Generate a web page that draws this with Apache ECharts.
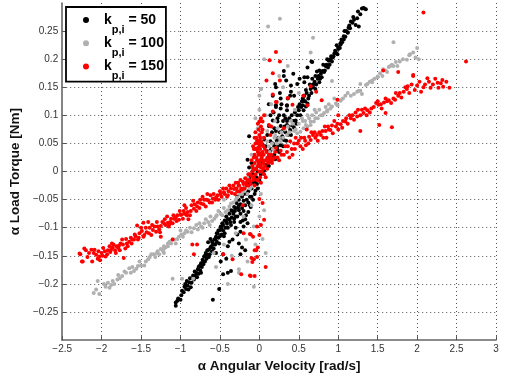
<!DOCTYPE html>
<html>
<head>
<meta charset="utf-8">
<script src="https://cdn.jsdelivr.net/npm/echarts@6/dist/echarts.min.js"></script>
<style>html,body{margin:0;padding:0;background:#fff}#c{width:510px;height:378px}</style>
</head>
<body>
<div id="c"></div>
<script>
// ---- data: [angular velocity, load torque] ----
var seriesNames = ['k50', 'k100', 'k150'];
var legendLabels = ['50', '100', '150'];
var xTickMin = -2.5, xTickMax = 3, xTickStep = 0.5;
var yTickMin = -0.3, yTickMax = 0.3, yTickStep = 0.05;

var black50 = [
[-1.06,-0.239],[-1.06,-0.233],[-1.03,-0.226],[-0.99,-0.22],[-0.96,-0.215],[-0.93,-0.209],[-0.91,-0.203],[-0.87,-0.206],[-0.89,-0.197],[-0.83,-0.192],[-0.84,-0.185],[-0.80,-0.18],[-0.78,-0.174],[-0.76,-0.168],[-0.74,-0.163],[-0.72,-0.157],[-0.70,-0.151],[-0.68,-0.145],[-0.64,-0.139],[-0.61,-0.133],[-0.59,-0.128],[-0.57,-0.121],[-0.55,-0.116],[-0.53,-0.11],[-0.50,-0.104],[-0.49,-0.098],[-0.47,-0.092],[-0.44,-0.087],[-0.42,-0.08],[-0.38,-0.075],[-0.36,-0.069],[-0.32,-0.063],[-0.29,-0.056],
[-1.0,-0.228],[-0.95,-0.205],[-0.92,-0.195],[-0.88,-0.19],[-0.86,-0.198],[-0.82,-0.178],[-0.79,-0.188],[-0.77,-0.182],[-0.75,-0.176],[-0.73,-0.17],[-0.71,-0.165],[-0.69,-0.16],[-0.67,-0.155],[-0.66,-0.148],[-0.65,-0.126],[-0.63,-0.147],[-0.62,-0.12],[-0.6,-0.142],[-0.58,-0.137],[-0.56,-0.13],[-0.54,-0.125],[-0.52,-0.118],[-0.51,-0.128],[-0.48,-0.112],[-0.46,-0.105],[-0.45,-0.115],[-0.43,-0.1],[-0.41,-0.093],[-0.4,-0.085],[-0.37,-0.09],[-0.35,-0.082],[-0.33,-0.075],[-0.31,-0.07],[-0.3,-0.08],[-0.27,-0.065],[-0.26,-0.05],[-0.24,-0.058],[-0.22,-0.045],[-0.2,-0.052],
[-1.04,-0.23],[-0.98,-0.212],[-0.94,-0.2],[-0.9,-0.21],[-0.85,-0.19],[-0.81,-0.185],[-0.77,-0.17],[-0.74,-0.18],[-0.71,-0.16],[-0.69,-0.15],[-0.66,-0.14],[-0.64,-0.152],[-0.62,-0.135],[-0.6,-0.125],[-0.58,-0.13],[-0.56,-0.12],[-0.54,-0.11],[-0.52,-0.105],[-0.5,-0.115],[-0.48,-0.1],[-0.46,-0.095],[-0.44,-0.11],[-0.42,-0.09],[-0.4,-0.1],[-0.38,-0.085],[-0.36,-0.095],[-0.34,-0.07],[-0.32,-0.09],[-0.3,-0.065],[-0.28,-0.08],[-0.26,-0.06],[-0.24,-0.09],[-0.22,-0.065],[-0.2,-0.04],[-0.18,-0.085],[-0.16,-0.05],[-0.14,-0.035],[-0.12,-0.06],[-0.1,-0.045],[-0.08,-0.02],[-0.06,-0.04],[-0.04,-0.01],[-0.02,-0.03],[0.0,-0.015],
[-0.59,-0.228],[-0.51,-0.209],[-0.40,-0.18],[-0.46,-0.183],[-0.36,-0.177],[-0.49,-0.16],[-0.46,-0.147],[-0.40,-0.133],[-0.38,-0.125],[-0.34,-0.121],[-0.28,-0.112],[-0.24,-0.107],[-0.20,-0.098],[-0.21,-0.087],[-0.15,-0.092],[-0.26,-0.069],[-0.32,-0.084],[-0.24,-0.075],[-0.17,-0.078],[-0.14,-0.072],[-0.11,-0.063],[-0.05,-0.034],[-0.03,-0.022],[-0.24,-0.147],[-0.55,-0.145],[-0.42,-0.155],[-0.30,-0.1],[-0.18,-0.06],[-0.12,-0.045],[-0.08,-0.05],[-0.1,-0.03],[-0.06,-0.015],[-0.16,-0.04],[-0.2,-0.07],[-0.14,-0.055],[-0.22,-0.135],[-0.18,-0.14],[-0.26,-0.128],
[0.02,-0.005],[0.06,0.002],[0.10,0.01],[0.14,0.019],[0.19,0.03],[0.23,0.039],[0.27,0.047],[0.31,0.056],[0.36,0.065],[0.39,0.074],[0.42,0.082],[0.46,0.091],[0.48,0.10],[0.50,0.109],[0.55,0.118],[0.56,0.126],[0.63,0.135],[0.65,0.147],[0.69,0.156],[0.74,0.165],[0.78,0.174],[0.80,0.179],[0.84,0.188],[0.88,0.197],[0.93,0.203],[0.97,0.212],[1.0,0.218],[1.03,0.226],[1.07,0.235],[1.12,0.247],[1.13,0.256],[1.16,0.267],[1.22,0.261],[1.26,0.258],[1.24,0.273],[1.32,0.291],[1.35,0.289],[1.30,0.29],
[1.12,0.248],[1.07,0.241],[1.03,0.229],[1.0,0.221],[0.99,0.209],[0.94,0.205],[0.92,0.196],[0.86,0.188],[0.82,0.177],[0.76,0.159],[0.71,0.147],[0.61,0.121],[0.59,0.116],[0.56,0.109],[0.55,0.13],[0.67,0.195],[0.57,0.159],[0.61,0.168],
[0.04,0.0],[0.08,0.012],[0.12,0.01],[0.16,0.028],[0.2,0.022],[0.21,0.045],[0.25,0.035],[0.28,0.06],[0.3,0.045],[0.33,0.07],[0.34,0.055],[0.37,0.08],[0.4,0.065],[0.43,0.09],[0.44,0.078],[0.47,0.085],[0.52,0.1],[0.53,0.115],[0.58,0.125],[0.6,0.14],[0.62,0.13],[0.66,0.14],[0.68,0.15],[0.7,0.16],[0.72,0.155],[0.75,0.17],[0.77,0.165],[0.79,0.168],[0.83,0.18],[0.85,0.19],[0.87,0.185],[0.9,0.2],[0.95,0.21],[1.02,0.22],[1.05,0.23],[1.09,0.24],[1.1,0.25],[1.15,0.255],[1.18,0.265],[1.2,0.27],[1.28,0.28],
[0.06,0.01],[0.09,0.02],[0.11,0.025],[0.13,0.03],[0.15,0.04],[0.17,0.05],[0.19,0.045],[0.22,0.055],[0.24,0.06],[0.26,0.07],[0.29,0.072],[0.32,0.08],[0.35,0.09],[0.38,0.095],[0.41,0.1],[0.45,0.105],[0.49,0.115],[0.51,0.12],[0.54,0.125],[0.57,0.135],[0.59,0.145],[0.64,0.155],[0.67,0.165],[0.71,0.17],[0.73,0.178],[0.76,0.18],[0.81,0.19],[0.86,0.2],[0.89,0.19],[0.91,0.205],[0.96,0.215],[0.98,0.225],[1.04,0.235],[1.08,0.25],[1.14,0.26],[1.19,0.275],[1.25,0.285],[1.33,0.29],
[-0.25,-0.04],[-0.2,-0.03],[-0.15,-0.02],[-0.12,-0.01],[-0.08,-0.005],[-0.05,0.005],[-0.02,0.0],[0.0,0.01],[-0.1,0.015],[-0.15,0.021],[-0.13,0.063],[-0.13,0.007],[0.02,0.02],[-0.04,-0.02],[-0.28,-0.045],
[0.2,0.156],[0.17,0.135],[0.21,0.118],[0.28,0.12],[0.35,0.109],[0.14,0.1],[0.23,0.095],[0.12,0.081],[0.19,0.077],[0.27,0.081],[0.06,0.057],[0.14,0.054],[0.1,0.036],[0.04,0.048],[0.31,0.17],[0.31,0.179],[0.66,0.196],[0.61,0.185],[0.51,0.165],[0.48,0.156],[0.57,0.168],[0.4,0.153],[0.44,0.135],[0.36,0.13],[0.43,0.174],[0.34,0.162],[0.21,0.15],[0.4,0.142],[0.27,0.13],[0.21,0.115],[0.35,0.117],[0.56,0.135],[0.67,0.154],[0.27,0.112],[0.35,0.118],[0.39,0.135],[0.31,0.1],[0.23,0.089],[0.17,0.091],[0.21,0.072],[0.35,0.083],[0.29,0.063],[0.23,0.045],[0.14,0.037],[0.04,0.016],[0.25,0.1],[0.3,0.09],[0.16,0.07],[0.1,0.065],[0.08,0.045],[0.12,0.12],[0.18,0.105],[0.33,0.095],[0.26,0.14]
];

var gray100 = [
[-2.1,-0.216],[-2.03,-0.218],[-2.05,-0.195],[-1.92,-0.198],[-1.9,-0.207],[-1.88,-0.202],[-1.84,-0.2],[-1.79,-0.184],[-1.74,-0.186],[-1.69,-0.18],[-1.65,-0.172],[-1.63,-0.18],[-1.59,-0.177],[-1.54,-0.168],[-1.5,-0.167],[-1.46,-0.167],[-1.41,-0.156],[-1.37,-0.147],[-1.34,-0.147],[-1.29,-0.142],[-1.27,-0.147],[-1.22,-0.142],[-1.21,-0.137],[-1.16,-0.133],[-1.12,-0.128],[-1.1,-0.121],[-1.06,-0.128],[-1.02,-0.116],[-0.97,-0.116],[-0.95,-0.11],[-0.91,-0.107],[-0.83,-0.101],[-0.74,-0.098],[-0.65,-0.09],[-0.57,-0.084],[-0.49,-0.075],[-0.4,-0.069],[-0.36,-0.057],[-0.28,-0.046],[-0.15,-0.04],[-0.99,-0.112],[-1.08,-0.121],[-1.16,-0.128],[-1.21,-0.133],
[-0.88,-0.1],[-0.86,-0.108],[-0.8,-0.095],[-0.78,-0.103],[-0.7,-0.092],[-0.68,-0.085],[-0.62,-0.08],[-0.6,-0.088],[-0.54,-0.078],[-0.52,-0.07],[-0.45,-0.065],[-0.43,-0.072],[-0.33,-0.055],[-0.3,-0.05],[-0.25,-0.04],[-0.2,-0.035],[-0.12,-0.03],[-1.8,-0.192],[-1.95,-0.205],[-1.44,-0.16],[-1.32,-0.152],[-1.25,-0.138],[-1.14,-0.125],[-1.04,-0.12],[-1.0,-0.105],
[-2.07,-0.21],[-1.97,-0.2],[-1.86,-0.195],[-1.77,-0.19],[-1.71,-0.178],[-1.61,-0.17],[-1.56,-0.173],[-1.52,-0.16],[-1.39,-0.152],[-1.3,-0.145],[-1.19,-0.135],[-0.93,-0.105],[-0.76,-0.092],[-0.72,-0.1],[-0.63,-0.095],[-0.55,-0.08],[-0.47,-0.078],[-0.38,-0.062],[-0.22,-0.04],[-0.18,-0.03],[-0.08,-0.01],
[-1.1,-0.191],[-1.21,-0.145],[-0.26,-0.174],[-0.84,-0.191],[-0.98,-0.191],[-0.58,-0.145],[-0.26,-0.18],[-0.17,-0.121],[-0.07,-0.098],[0.08,-0.145],[0.06,-0.069],[0.04,-0.12],[-0.07,-0.205],[-0.35,-0.15],[-0.45,-0.13],[-0.2,-0.08],[-0.1,-0.06],[0.02,-0.04],[-0.3,-0.11],[-0.15,-0.16],[-0.4,-0.2],[-0.55,-0.17],[0.0,-0.08],[-0.05,-0.13],
[-0.15,-0.011],[-0.11,-0.028],[0.0,0.021],[0.06,0.03],[0.04,0.06],[0.1,0.054],[0.19,0.06],[0.27,0.054],[0.23,0.077],[0.35,0.065],[0.44,0.072],[0.1,0.072],[-0.02,0.077],[-0.05,0.095],[0.0,0.135],[0.02,0.147],[-0.05,0.01],[0.02,0.0],[0.08,0.02],[0.13,0.035],[0.17,0.04],[0.22,0.05],[0.3,0.06],[0.38,0.07],[0.48,0.068],[0.52,0.071],[0.52,0.06],[0.56,0.077],[0.61,0.08],[0.65,0.083],[0.69,0.089],[0.74,0.095],[0.78,0.1],[0.82,0.104],[0.86,0.109],[0.92,0.116],[0.99,0.118],[1.03,0.126],[0.61,0.1],[0.59,0.083],[0.65,0.089],[0.71,0.095],[0.8,0.1],[0.86,0.107],[0.9,0.112],[0.97,0.121],[1.03,0.127],[1.09,0.135],[1.16,0.135],[1.24,0.142],[1.28,0.144],[1.35,0.154],[1.43,0.162],[1.5,0.169],[1.57,0.182],[1.64,0.186],[1.68,0.19],[1.75,0.188],[1.87,0.199],[1.9,0.207],[2.02,0.2],[2.0,0.22],[1.2,0.138],[1.26,0.144],[1.3,0.138],[1.37,0.156],[1.43,0.159],[1.5,0.168],[1.56,0.17],[1.62,0.177],[1.66,0.188],[1.7,0.188],[1.78,0.196],[1.91,0.209],[1.98,0.203],[1.28,0.156],[0.92,0.161],
[0.05,0.01],[0.12,0.045],[0.16,0.05],[0.2,0.065],[0.25,0.06],[0.28,0.07],[0.32,0.075],[0.36,0.08],[0.42,0.085],[0.46,0.075],[0.5,0.085],[0.54,0.095],[0.58,0.09],[0.63,0.095],[0.67,0.1],[0.72,0.105],[0.76,0.11],[0.84,0.115],[0.88,0.12],[0.95,0.13],[1.06,0.13],[1.12,0.14],[1.4,0.16],[1.46,0.165],[1.53,0.175],[1.6,0.18],[1.73,0.195],[1.82,0.2],[1.95,0.212],
[0.26,0.272],[0.11,0.258],[0.68,0.238],[1.7,0.23],[0.65,0.212],[0.06,0.2],[0.36,0.188],[0.02,0.147],[0.0,0.11],[0.15,0.12],[0.3,0.15],[0.45,0.11],[0.55,0.09],[0.7,0.11],[0.4,0.09],[0.2,0.09],[-0.03,0.05],[0.08,0.1],[0.5,0.14],[0.25,0.17],[-0.3,-0.03],[-0.45,-0.05],[-0.1,0.03]
];

var red150 = [
[-2.27,-0.147],[-2.25,-0.16],[-2.22,-0.137],[-2.2,-0.14],[-2.12,-0.16],[-2.13,-0.139],[-2.09,-0.139],[-2.04,-0.142],[-2.03,-0.151],[-2.02,-0.158],[-2.0,-0.145],[-1.98,-0.136],[-1.95,-0.151],[-1.92,-0.14],[-1.9,-0.133],[-1.88,-0.139],[-1.85,-0.13],[-1.82,-0.145],[-1.79,-0.136],[-1.78,-0.132],[-1.74,-0.121],[-1.72,-0.154],[-1.7,-0.137],[-1.67,-0.133],[-1.65,-0.125],[-1.61,-0.121],[-1.59,-0.121],[-1.55,-0.096],[-1.54,-0.121],[-1.47,-0.116],[-1.46,-0.113],[-1.47,-0.091],[-1.41,-0.09],[-1.37,-0.113],[-1.35,-0.104],[-1.31,-0.107],[-1.29,-0.098],[-1.25,-0.097],[-1.25,-0.116],[-1.21,-0.092],[-1.16,-0.091],[-1.15,-0.098],[-1.12,-0.084],[-1.1,-0.092],[-1.06,-0.082],[-1.02,-0.086],[-1.0,-0.077],[-0.97,-0.084],[-0.95,-0.075],
[-2.28,-0.146],[-2.24,-0.16],[-2.16,-0.145],[-2.07,-0.148],[-1.96,-0.142],[-1.87,-0.128],[-1.83,-0.14],[-1.76,-0.128],[-1.68,-0.128],[-1.63,-0.118],[-1.57,-0.115],[-1.52,-0.11],[-1.49,-0.106],[-1.43,-0.108],[-1.39,-0.1],[-1.33,-0.098],[-1.27,-0.103],[-1.23,-0.09],[-1.19,-0.095],[-1.13,-0.09],[-1.08,-0.084],[-1.04,-0.078],
[-2.18,-0.152],[-2.1,-0.145],[-2.05,-0.155],[-1.99,-0.15],[-1.93,-0.147],[-1.89,-0.143],[-1.86,-0.135],[-1.81,-0.133],[-1.77,-0.14],[-1.73,-0.13],[-1.69,-0.12],[-1.62,-0.128],[-1.58,-0.112],[-1.53,-0.118],[-1.5,-0.1],[-1.44,-0.1],[-1.4,-0.11],[-1.36,-0.095],[-1.3,-0.09],[-1.26,-0.108],[-1.2,-0.085],[-1.17,-0.08],[-1.14,-0.094],[-1.09,-0.078],[-1.05,-0.088],[-1.01,-0.07],
[-0.99,-0.077],[-0.91,-0.072],[-0.83,-0.066],[-0.74,-0.057],[-0.65,-0.051],[-0.55,-0.046],[-0.45,-0.037],[-0.32,-0.031],[-0.2,-0.022],[-0.07,-0.011],[0.02,0.007],[0.14,0.025],[-0.93,-0.065],[-0.88,-0.078],[-0.86,-0.06],[-0.8,-0.07],[-0.78,-0.055],[-0.76,-0.065],[-0.7,-0.05],[-0.68,-0.062],[-0.62,-0.042],[-0.6,-0.055],[-0.58,-0.04],[-0.52,-0.05],[-0.5,-0.035],[-0.48,-0.045],[-0.42,-0.03],[-0.4,-0.042],[-0.38,-0.025],[-0.35,-0.038],[-0.3,-0.02],[-0.28,-0.035],[-0.26,-0.025],[-0.24,-0.015],[-0.22,-0.032],[-0.18,-0.012],[-0.16,-0.025],[-0.14,-0.005],[-0.12,-0.018],[-0.1,-0.008],[-0.09,0.0],[-0.05,-0.005],[-0.72,-0.045],[-0.66,-0.04],[-0.95,-0.06],[-0.84,-0.052],[-0.9,-0.085],
[-0.12,-0.005],[-0.13,-0.015],[-0.14,-0.025],[-0.17,-0.02],[-0.19,-0.03],[-0.21,-0.018],[-0.23,-0.03],[-0.25,-0.035],[-0.27,-0.02],[-0.29,-0.03],[-0.31,-0.04],[-0.33,-0.025],[-0.36,-0.03],[-0.39,-0.035],[-0.41,-0.045],[-0.44,-0.04],[-0.46,-0.03],[-0.49,-0.04],[-0.53,-0.042],[-0.56,-0.05],[-0.59,-0.048],[-0.63,-0.055],[-0.67,-0.05],[-0.71,-0.058],[-0.75,-0.05],[-0.79,-0.062],[-0.82,-0.058],[-0.87,-0.07],[-0.92,-0.078],[-0.96,-0.07],
[-0.08,0.005],[-0.06,0.015],[-0.04,0.025],[-0.02,0.035],[0.0,0.045],[0.02,0.03],[0.04,0.02],[-0.05,0.004],[0.02,0.012],[0.06,-0.005],[0.1,0.024],[0.0,0.033],[-0.02,0.042],[0.02,0.054],[0.0,0.065],[0.0,0.089],[0.04,0.089],[0.06,0.1],[-0.03,0.055],[-0.05,0.04],[-0.07,0.025],[0.03,0.07],[-0.01,0.075],[0.05,0.045],[0.01,-0.01],[-0.03,-0.015],[0.03,0.0],[-0.06,0.03],[0.04,0.035],[-0.02,0.01],[0.0,0.0],[-0.04,0.06],[0.02,0.08],[-0.08,0.045],[0.06,0.06],[-0.1,0.02],[0.07,0.01],[-0.11,-0.022],[-0.15,-0.016],[-0.26,-0.025],[-0.02,-0.016],
[-0.09,0.01],[-0.07,0.04],[-0.05,0.05],[-0.05,0.07],[-0.03,0.04],[-0.03,0.02],[-0.01,0.05],[-0.01,0.03],[-0.01,0.015],[0.01,0.06],[0.01,0.04],[0.01,0.02],[0.03,0.05],[0.03,0.025],[0.05,0.03],[0.05,0.015],[0.07,0.04],[0.08,0.02],[0.09,0.035],[0.11,0.015],[0.12,0.03],[0.13,0.02],[0.15,0.03],[0.16,0.015],[0.19,0.025],[0.2,0.035],[0.02,0.095],[-0.02,0.085],[0.04,0.075],[-0.06,0.06],[0.0,0.055],[-0.04,0.005],[0.02,-0.02],[0.05,0.005],[0.08,-0.01],[0.1,0.005],[-0.08,-0.015],[-0.06,-0.025],
[0.17,0.021],[0.23,0.025],[0.31,0.03],[0.42,0.03],[0.21,0.042],[0.27,0.037],[0.33,0.045],[0.39,0.054],[0.46,0.06],[0.52,0.045],[0.59,0.047],[0.65,0.056],[0.71,0.06],[0.78,0.065],[0.84,0.072],[0.9,0.074],[0.97,0.08],[1.03,0.084],[1.09,0.089],[1.16,0.095],[1.24,0.098],[1.32,0.104],[1.37,0.109],[1.45,0.115],[1.51,0.119],[1.58,0.123],[1.64,0.127],[1.7,0.13],[1.76,0.135],[1.83,0.142],[1.87,0.147],[2.0,0.153],[2.08,0.15],[2.13,0.166],[2.17,0.149],[2.23,0.165],[2.27,0.149],[2.32,0.163],[2.33,0.151],[2.41,0.149],[1.95,0.17],
[0.25,0.02],[0.35,0.035],[0.38,0.025],[0.45,0.04],[0.5,0.055],[0.55,0.04],[0.57,0.06],[0.62,0.05],[0.68,0.065],[0.74,0.055],[0.76,0.07],[0.81,0.06],[0.87,0.08],[0.93,0.068],[0.95,0.09],[1.0,0.075],[1.06,0.09],[1.12,0.085],[1.14,0.1],[1.2,0.092],[1.28,0.1],[1.34,0.112],[1.4,0.105],[1.48,0.122],[1.55,0.112],[1.6,0.13],[1.67,0.122],[1.73,0.14],[1.8,0.132],[1.85,0.15],[1.9,0.14],[1.93,0.155],[1.97,0.145],[2.03,0.16],[2.05,0.142],[2.1,0.155],[2.2,0.155],[2.3,0.157],[0.6,0.075],[0.85,0.06],[1.0,0.1],[1.25,0.11],
[0.28,0.03],[0.36,0.045],[0.41,0.04],[0.44,0.05],[0.48,0.05],[0.53,0.06],[0.58,0.055],[0.63,0.062],[0.66,0.07],[0.7,0.07],[0.73,0.065],[0.8,0.072],[0.83,0.08],[0.88,0.075],[0.92,0.082],[0.99,0.085],[1.05,0.078],[1.1,0.095],[1.18,0.1],[1.22,0.105],[1.3,0.11],[1.36,0.1],[1.42,0.112],[1.5,0.125],[1.54,0.12],[1.62,0.125],[1.72,0.128],[1.78,0.14],[1.88,0.152],[2.15,0.16],[2.26,0.158],[2.37,0.16],
[2.08,0.283],[2.62,0.196],[0.21,0.213],[0.13,0.198],[0.26,0.196],[0.09,0.162],[0.17,0.175],[1.57,0.18],[1.76,0.177],[1.95,0.172],[1.68,0.079],[1.52,0.083],[1.28,0.072],[1.6,0.104],[0.17,0.107],[0.22,0.124],[0.12,0.083],[0.14,0.065],
[0.26,0.162],[0.65,0.152],[0.72,0.142],[0.17,0.137],[0.36,0.131],[0.21,0.124],[0.56,0.135],[0.79,0.127],[0.99,0.128],[0.42,0.119],[0.61,0.118],[0.15,0.08],[0.31,0.077],
[0.06,-0.086],[0.02,-0.095],[-0.03,-0.098],[0.0,-0.113],[-0.11,-0.112],[-0.02,-0.135],[-0.04,-0.14],[-0.03,-0.152],[-0.07,-0.156],[-0.09,-0.161],[0.08,-0.17],[0.04,-0.056],[0.0,-0.049],[-0.06,-0.186],[-0.11,-0.186],[-0.23,-0.183],[-0.12,-0.185],[-0.1,-0.154],[-0.34,-0.156],[-0.12,-0.111],[-0.08,-0.116],[-0.46,-0.147],[-0.83,-0.147],[-0.85,-0.13],[-0.79,-0.13],[-1.1,-0.121],[-0.06,-0.14],[-0.21,-0.06],[-0.2,-0.11]
];

var seriesColors = ['#000000', '#b0b0b0', '#ff0000'];
var seriesData = [black50, gray100, red150];

// ---- chart ----
var FONT = 'Liberation Sans, Arial, Helvetica, sans-serif';
function fmt(v) {
  var s = String(Math.round(v * 1000) / 1000);
  return s.replace('-', '\u2212');
}
var chart = echarts.init(document.getElementById('c'), null, {renderer: 'canvas'});
var option = {
  animation: false,
  backgroundColor: '#ffffff',
  grid: {left: 61, right: 14, top: 3, bottom: 32, containLabel: false},
  legend: {
    orient: 'vertical',
    left: 66, top: 7,
    padding: [6, 2, 0, 17],
    itemGap: 1.3,
    itemWidth: 26, itemHeight: 6,
    icon: 'circle',
    backgroundColor: '#ffffff',
    borderColor: '#000000',
    borderWidth: 1.8,
    borderRadius: 0,
    data: seriesNames,
    formatter: function (name) {
      var i = seriesNames.indexOf(name);
      return '{k|k}{s|p,i}{k| = ' + legendLabels[i] + '}';
    },
    textStyle: {
      fontFamily: FONT, fontSize: 17,
      rich: {
        k: {fontFamily: FONT, fontSize: 14, fontWeight: 'bold', color: '#000', lineHeight: 14, padding: [0, 0, 0, 0], verticalAlign: 'top'},
        s: {fontFamily: FONT, fontSize: 11, fontWeight: 'bold', color: '#000', lineHeight: 11, padding: [11, 0, 0, 0], verticalAlign: 'top'}
      }
    }
  },
  xAxis: {
    type: 'value',
    min: xTickMin, max: xTickMax, interval: xTickStep,
    name: '\u03b1 Angular Velocity [rad/s]',
    nameLocation: 'middle', nameGap: 13,
    nameTextStyle: {fontFamily: FONT, fontSize: 13.5, fontWeight: 'bold', color: '#111'},
    axisLine: {show: true, onZero: false, lineStyle: {color: '#666', width: 1.6}},
    axisTick: {show: true, inside: true, length: 4, lineStyle: {color: '#555', width: 1}},
    axisLabel: {fontFamily: FONT, fontSize: 10, color: '#333', margin: 4, formatter: fmt},
    splitLine: {show: true, showMinLine: false, lineStyle: {type: [1, 3], color: '#555', width: 1}}
  },
  yAxis: {
    type: 'value',
    min: yTickMin, max: yTickMax, interval: yTickStep,
    name: '\u03b1 Load Torque [Nm]',
    nameLocation: 'middle', nameGap: 28,
    nameTextStyle: {fontFamily: FONT, fontSize: 13.5, fontWeight: 'bold', color: '#111'},
    axisLine: {show: true, onZero: false, lineStyle: {color: '#666', width: 1.6}},
    axisTick: {show: true, inside: true, length: 4, lineStyle: {color: '#555', width: 1}},
    axisLabel: {fontFamily: FONT, fontSize: 10, color: '#333', margin: 4, showMinLabel: false, showMaxLabel: false,
      formatter: function (v) { return Math.abs(v) > 0.29 ? '' : fmt(v); }},
    splitLine: {show: true, showMinLine: false, showMaxLine: false, lineStyle: {type: [1, 3], color: '#555', width: 1}}
  },
  series: seriesNames.map(function (n, i) {
    return {
      name: n, type: 'scatter',
      data: seriesData[i],
      symbol: 'circle', symbolSize: 4,
      itemStyle: {color: seriesColors[i], opacity: 1},
      emphasis: {disabled: true},
      z: 2 + i
    };
  })
};
chart.setOption(option);
</script>
</body>
</html>
